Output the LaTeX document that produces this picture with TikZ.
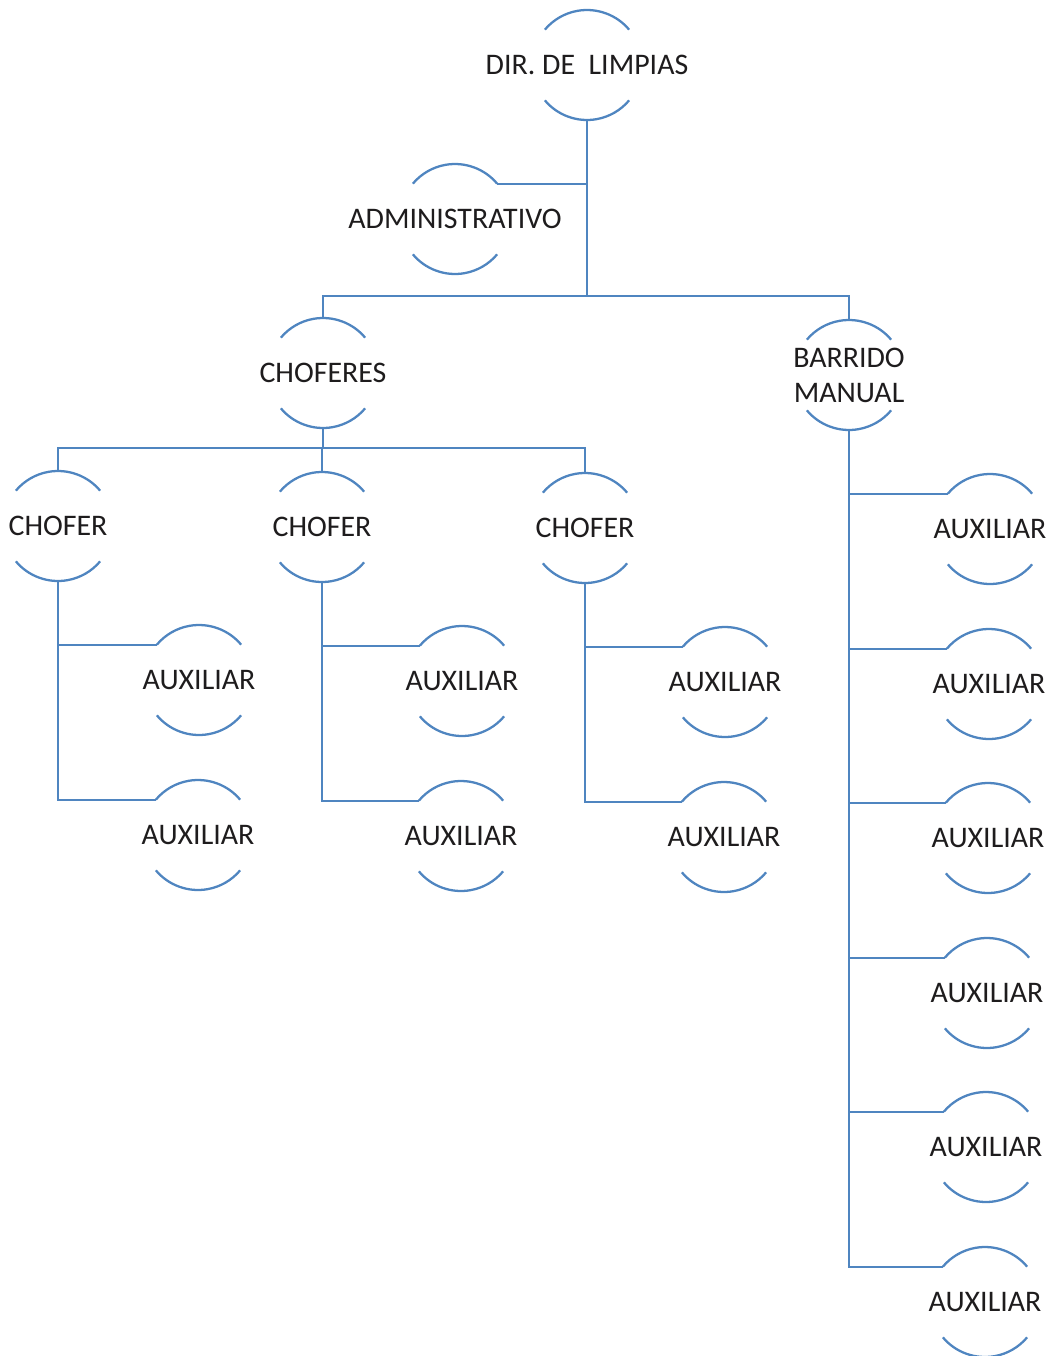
\documentclass[tikz,border=0pt]{standalone}
\usepackage{fontspec}
\setmainfont{Carlito}
\usepackage{tikz}

\definecolor{azul}{RGB}{79,133,192}
\definecolor{letra}{RGB}{30,28,29}

\tikzset{
  puesto/.style={font=\fontsize{17}{20}\selectfont, text=letra, inner sep=0pt, align=center},
  linea/.style={draw=azul, line width=1.3pt}
}

\begin{document}
\begin{tikzpicture}[x=0.02cm,y=0.02cm]
\useasboundingbox (0,0) rectangle (1054,-1356);

\node[puesto] (dir) at (587,-65) {DIR. DE\ \ LIMPIAS};
\node[puesto] (admin) at (455,-219) {ADMINISTRATIVO};
\node[puesto] (choferes) at (323,-373) {CHOFERES};
\node[puesto] (barrido) at (849,-375) {BARRIDO\\MANUAL};

\node[puesto] (chofA) at (58,-526) {CHOFER};
\node[puesto] (chofB) at (322,-527) {CHOFER};
\node[puesto] (chofC) at (585,-528) {CHOFER};

\node[puesto] (auxA1) at (199,-680) {AUXILIAR};
\node[puesto] (auxA2) at (198,-835) {AUXILIAR};
\node[puesto] (auxB1) at (462,-681) {AUXILIAR};
\node[puesto] (auxB2) at (461,-836) {AUXILIAR};
\node[puesto] (auxC1) at (725,-682) {AUXILIAR};
\node[puesto] (auxC2) at (724,-837) {AUXILIAR};

\node[puesto] (auxD1) at (990,-529) {AUXILIAR};
\node[puesto] (auxD2) at (989,-684) {AUXILIAR};
\node[puesto] (auxD3) at (988,-838) {AUXILIAR};
\node[puesto] (auxD4) at (987,-993) {AUXILIAR};
\node[puesto] (auxD5) at (986,-1147) {AUXILIAR};
\node[puesto] (auxD6) at (985,-1302) {AUXILIAR};

% arcos de cada puesto
\foreach \n in {dir,admin,choferes,barrido,chofA,chofB,chofC,auxA1,auxA2,auxB1,auxB2,auxC1,auxC2,auxD1,auxD2,auxD3,auxD4,auxD5,auxD6} {
\draw[linea] (\n.center) ++(40:55) arc[start angle=40, end angle=140, radius=1.1cm];
\draw[linea] (\n.center) ++(220:55) arc[start angle=220, end angle=320, radius=1.1cm];
\path (\n.center) ++(0,55) coordinate (\n-arr);
\path (\n.center) ++(0,-55) coordinate (\n-aba);
\path (\n.center) ++(40:55) coordinate (\n-der);
\path (\n.center) ++(140:55) coordinate (\n-izq);
}

\coordinate (b1) at (0,-296);
\coordinate (b2) at (0,-448);

\draw[linea] (dir-aba) -- (dir-aba |- b1);
\draw[linea] (admin-der) -- (admin-der -| dir-aba);
\draw[linea] (choferes-arr) |- (b1 -| dir-aba) -| (barrido-arr);

\draw[linea] (choferes-aba) -- (choferes-aba |- b2);
\draw[linea] (chofA-arr) |- (b2 -| chofC-arr) -- (chofC-arr);
\draw[linea] (chofB-arr) -- (chofB-arr |- b2);

\foreach \c/\a/\b in {chofA/auxA1/auxA2, chofB/auxB1/auxB2, chofC/auxC1/auxC2} {
\draw[linea] (\c-aba) |- (\b-izq);
\draw[linea] (\a-izq) -- (\a-izq -| \c-aba);
}

\draw[linea] (barrido-aba) |- (auxD6-izq);
\foreach \a in {auxD1,auxD2,auxD3,auxD4,auxD5} {
\draw[linea] (\a-izq) -- (\a-izq -| barrido-aba);
}

\end{tikzpicture}
\end{document}
